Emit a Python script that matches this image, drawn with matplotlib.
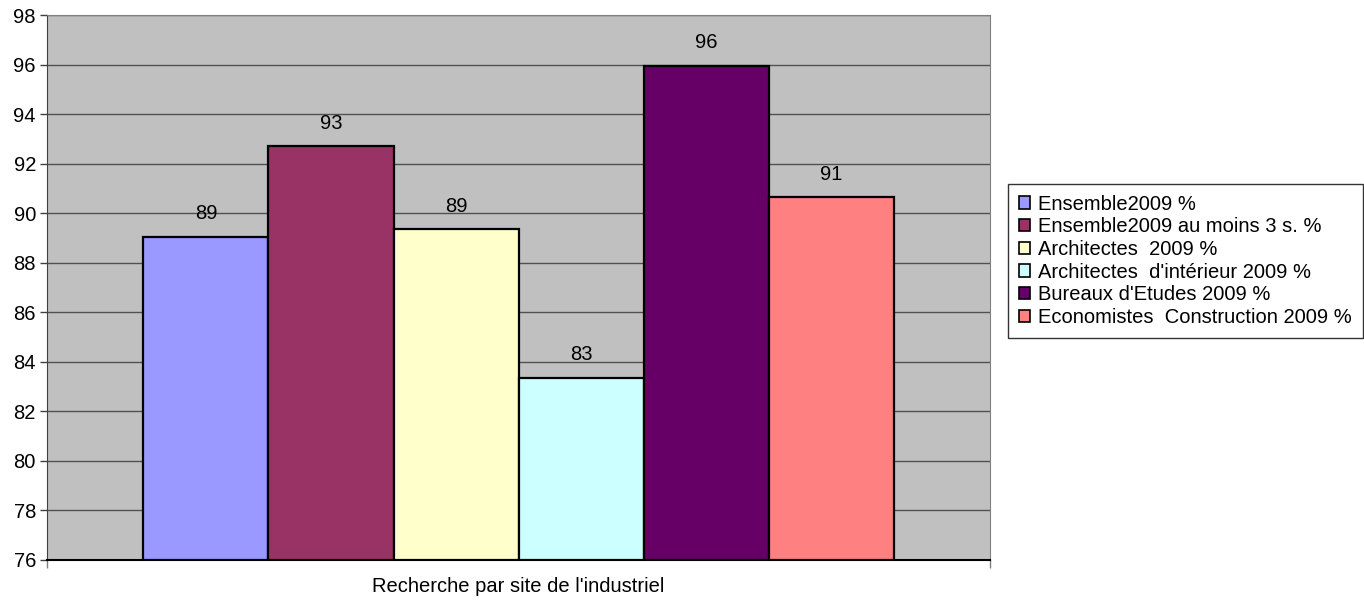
import matplotlib
matplotlib.use("Agg")
import matplotlib.pyplot as plt
from matplotlib.patches import Patch

plt.rcParams['font.family'] = ['Liberation Sans', 'DejaVu Sans']

# Données
series = ["Ensemble2009 %", "Ensemble2009 au moins 3 s. %", "Architectes  2009 %",
          "Architectes  d'intérieur 2009 %", "Bureaux d'Etudes 2009 %",
          "Economistes  Construction 2009 %"]
valeurs = [89.05, 92.7, 89.35, 83.35, 95.95, 90.65]
etiquettes = ["89", "93", "89", "83", "96", "91"]
couleurs = ["#9999FF", "#993366", "#FFFFCC", "#CCFFFF", "#660066", "#FF8080"]
categorie = "Recherche par site de l'industriel"

taille = 14.5

fig = plt.figure(figsize=(13.64, 6.02), dpi=100)
ax = fig.add_axes([0.0345, 0.0698, 0.6915, 0.905])
ax.set_facecolor("#C0C0C0")

n = len(valeurs)
positions = [i - (n - 1) / 2 for i in range(n)]
barres = ax.bar(positions, [v - 76 for v in valeurs], bottom=76, width=1.0,
                color=couleurs, edgecolor="black", linewidth=1.6, zorder=3)

for p, v, t in zip(positions, valeurs, etiquettes):
    ax.text(p, v + 0.55, t, ha="center", va="bottom", fontsize=taille, zorder=4)

ax.set_ylim(76, 98)
ax.set_yticks(range(76, 99, 2))
ax.set_xlim(-3.77, 3.77)
ax.set_xticks([-3.77, 3.77])
ax.set_xticklabels(["", ""])
ax.yaxis.grid(True, color="#505050", linewidth=1.0, zorder=1)
ax.set_axisbelow(True)
ax.tick_params(axis="y", labelsize=taille, length=5, width=1, color="#404040", pad=3)
ax.tick_params(axis="x", length=6, width=1, color="#808080")
for cote in ["top", "right"]:
    ax.spines[cote].set_color("#808080")
ax.spines["left"].set_color("#404040")
ax.spines["bottom"].set_color("black")
ax.spines["bottom"].set_linewidth(1.5)
ax.set_xlabel(categorie, fontsize=taille, labelpad=3)

poignees = [Patch(facecolor=c, edgecolor="black", linewidth=1.2) for c in couleurs]
leg = fig.legend(poignees, series, loc="upper left", bbox_to_anchor=(0.739, 0.695),
                 fontsize=taille, frameon=True, fancybox=False, handlelength=0.55,
                 handleheight=0.55, handletextpad=0.4, labelspacing=0.18,
                 borderpad=0.55, borderaxespad=0)
leg.get_frame().set_edgecolor("black")
leg.get_frame().set_linewidth(1.0)

plt.savefig("out.png", dpi=100)
